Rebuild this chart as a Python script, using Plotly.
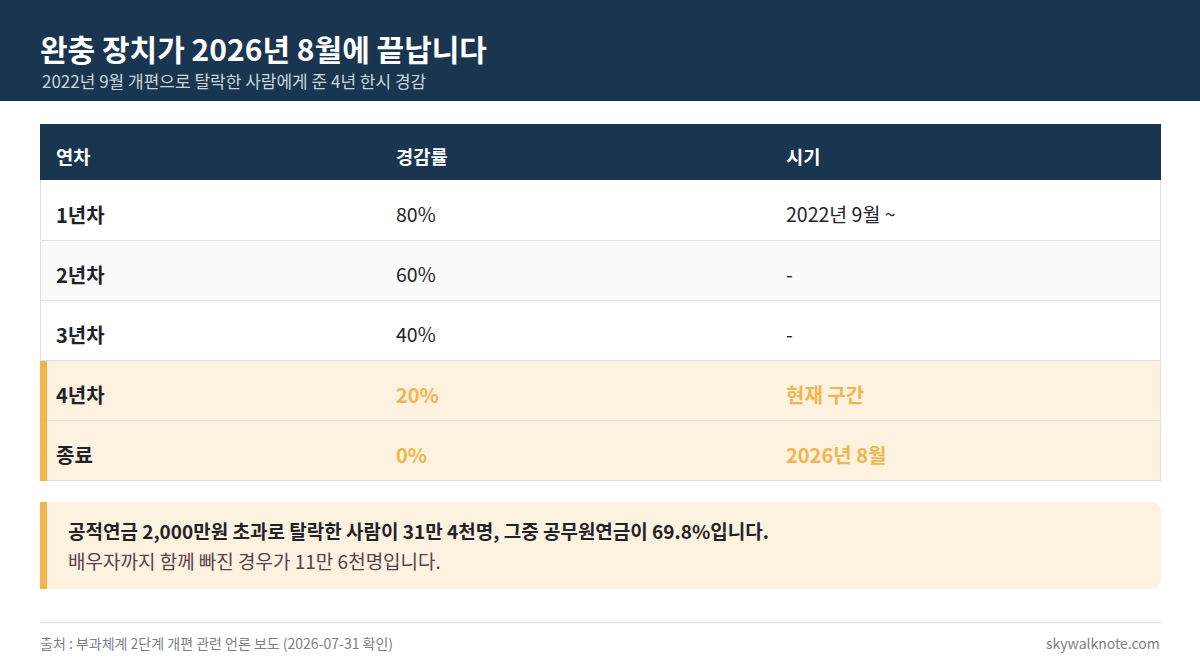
#!/usr/bin/env python3
# -*- coding: utf-8 -*-
import plotly.graph_objects as go

W, H = 1200, 668
FONT = "Noto Sans CJK KR"

NAVY = "#1a3550"
CREAM = "#fdf1df"
AMBER = "#f0b64e"
INK = "#1f2328"
LINE = "#dfe2e5"
STRIPE = "#fbfbfb"

# --- table contents ---
HEADERS = ["연차", "경감률", "시기"]
YEARS = ["1년차", "2년차", "3년차", "4년차", "종료"]
RATES = ["80%", "60%", "40%", "20%", "0%"]
PERIODS = ["2022년 9월 ~", "-", "-", "현재 구간", "2026년 8월"]
ROW_BG = ["#ffffff", STRIPE, "#ffffff", CREAM, CREAM]
HILITE = [False, False, False, True, True]

TITLE = "완충 장치가 2026년 8월에 끝납니다"
SUBTITLE = "2022년 9월 개편으로 탈락한 사람에게 준 4년 한시 경감"
NOTE_1 = "공적연금 2,000만원 초과로 탈락한 사람이 31만 4천명, 그중 공무원연금이 69.8%입니다."
NOTE_2 = "배우자까지 함께 빠진 경우가 11만 6천명입니다."
SOURCE = "출처 : 부과체계 2단계 개편 관련 언론 보도 (2026-07-31 확인)"
SITE = "skywalknote.com"

# table geometry, pixels
LEFT, RIGHT = 40, 1161
HEAD_TOP, HEAD_BOTTOM = 124, 180
ROWS_BOTTOM = 480.5
COL_X = [16, 356, 746]  # text start inside the table


def px(x):
    return x / W


def py(y):
    return 1 - y / H


def rect(x0, y0, x1, y1, color):
    return dict(type="rect", xref="paper", yref="paper", layer="above",
                x0=px(x0), x1=px(x1), y0=py(y0), y1=py(y1),
                fillcolor=color, line=dict(width=0))


def rule(x0, y0, x1, y1, color=LINE):
    return dict(type="line", xref="paper", yref="paper", layer="above",
                x0=px(x0), x1=px(x1), y0=py(y0), y1=py(y1),
                line=dict(color=color, width=1))


def label(x, y, text, size, color, anchor="left"):
    return dict(x=px(x), y=py(y), xref="paper", yref="paper", text=text, showarrow=False,
                xanchor=anchor, yanchor="middle", align=anchor, borderpad=0, borderwidth=0,
                font=dict(family=FONT, size=size, color=color))


def cell(col, row, text, size, color, shift=-3):
    return dict(x=COL_X[col], y=row, xref="x", yref="y", text=text, showarrow=False,
                xanchor="left", yanchor="middle", align="left", yshift=shift,
                borderpad=0, borderwidth=0,
                font=dict(family=FONT, size=size, color=color))


fig = go.Figure()

# row backgrounds
fig.add_trace(go.Bar(
    y=YEARS, x=[RIGHT - LEFT] * len(YEARS), orientation="h", width=1,
    marker=dict(color=ROW_BG, line=dict(width=0)),
    hoverinfo="skip", showlegend=False,
))

annotations = [
    label(40, 48, f"<b>{TITLE}</b>", 30, "#ffffff"),
    label(42, 80, SUBTITLE, 17, "#c8d5df"),
    label(68, 530, f"<b>{NOTE_1}</b>", 19, INK),
    label(68, 560, NOTE_2, 19, "#5a4048"),
    label(40, 643, SOURCE, 14, "#7b7f85"),
    label(1160, 643, SITE, 14, "#7b7f85", anchor="right"),
]
for col, head in enumerate(HEADERS):
    annotations.append(label(LEFT + COL_X[col], 156, f"<b>{head}</b>", 18.7, "#ffffff"))
for year, rate, period, hi in zip(YEARS, RATES, PERIODS, HILITE):
    annotations.append(cell(0, year, f"<b>{year}</b>", 20, INK, shift=-4))
    if hi:
        annotations.append(cell(1, year, f"<b>{rate}</b>", 20, AMBER, shift=-4))
        annotations.append(cell(2, year, f"<b>{period}</b>", 20, AMBER, shift=-4))
    else:
        annotations.append(cell(1, year, rate, 19.5, INK))
        annotations.append(cell(2, year, period, 19.5, INK))

r = 12
note_path = (
    f"M {px(40)} {py(502)} L {px(RIGHT - r)} {py(502)} "
    f"Q {px(RIGHT)} {py(502)} {px(RIGHT)} {py(502 + r)} "
    f"L {px(RIGHT)} {py(589 - r)} Q {px(RIGHT)} {py(589)} {px(RIGHT - r)} {py(589)} "
    f"L {px(40)} {py(589)} Z"
)

shapes = [
    rect(0, 0, W, 101, NAVY),
    rect(LEFT, HEAD_TOP, RIGHT, HEAD_BOTTOM, NAVY),
    rule(LEFT + 0.5, HEAD_BOTTOM, LEFT + 0.5, 361),
    rule(RIGHT - 0.5, HEAD_BOTTOM, RIGHT - 0.5, ROWS_BOTTOM),
]
for i, hi in enumerate(HILITE):
    y = HEAD_BOTTOM + 60.5 + 60 * i
    shapes.append(rule(LEFT + (7 if hi and i > 2 else 0), y, RIGHT, y))
shapes += [
    rule(LEFT, 360.5, RIGHT, 360.5),
    rect(40, 361, 47, 481, AMBER),
    dict(type="path", path=note_path, xref="paper", yref="paper", layer="above",
         fillcolor=CREAM, line=dict(width=0)),
    rect(40, 502, 47, 589, AMBER),
    rule(LEFT, 622.5, RIGHT, 622.5),
]

fig.update_layout(
    width=W, height=H,
    margin=dict(l=0, r=0, t=0, b=0),
    paper_bgcolor="#ffffff", plot_bgcolor="#ffffff",
    xaxis=dict(domain=[px(LEFT), px(RIGHT)], range=[0, RIGHT - LEFT], visible=False, fixedrange=True),
    yaxis=dict(domain=[py(ROWS_BOTTOM), py(HEAD_BOTTOM + 0.5)], type="category",
               categoryorder="array", categoryarray=YEARS,
               range=[len(YEARS) - 0.5, -0.5], visible=False, fixedrange=True),
    shapes=shapes, annotations=annotations,
    showlegend=False,
)

fig.write_html("out.html", config=dict(displayModeBar=False),
               post_script="document.body.style.margin='0';")
